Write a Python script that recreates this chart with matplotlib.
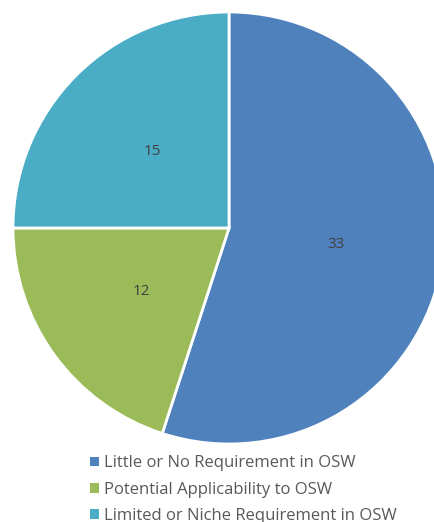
import matplotlib
matplotlib.use("Agg")
import matplotlib.pyplot as plt
from matplotlib.patches import Rectangle

categories = ["Little or No Requirement in OSW",
              "Potential Applicability to OSW",
              "Limited or Niche Requirement in OSW"]
values = [33, 12, 15]
colors = ["#4F81BD", "#9BBB59", "#4BACC6"]

W, H = 434, 522
fig = plt.figure(figsize=(W / 100, H / 100), dpi=100)
ax = fig.add_axes([0, 0, 1, 1])
R = 216.0
cx, cy = 229.0, 228.0

wedges, texts, autotexts = ax.pie(
    values, colors=colors, startangle=90, counterclock=False,
    radius=1.0, autopct=lambda p: f"{round(p * sum(values) / 100):d}",
    pctdistance=0.5, wedgeprops=dict(edgecolor='white', linewidth=2),
    textprops=dict(color='#404040', fontsize=11, family='Open Sans'),
    frame=False)
ax.set_xlim(-cx / R, (W - cx) / R)
ax.set_ylim(-(H - cy) / R, cy / R)
ax.set_aspect('auto')
ax.axis('off')

handles = [Rectangle((0, 0), 1, 1, facecolor=c, edgecolor='none') for c in colors]
leg = fig.legend(handles, categories, loc='upper left',
                 bbox_to_anchor=(82 / W, 1 - 447 / H),
                 frameon=False, borderpad=0, handlelength=0.5, handleheight=0.5,
                 handletextpad=0.35, labelspacing=0.62,
                 prop=dict(family='Open Sans', size=12))
for t in leg.get_texts():
    t.set_color('#595959')

fig.savefig("out.png", dpi=100)
